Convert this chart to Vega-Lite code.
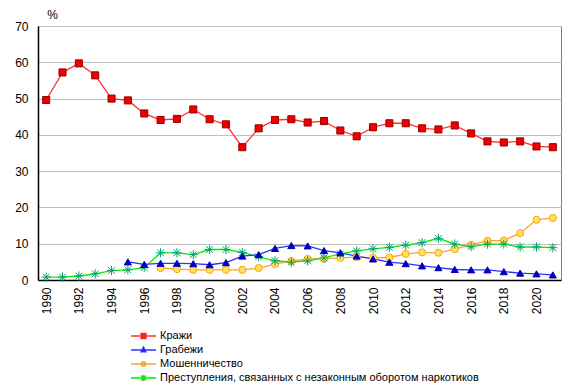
{
  "$schema": "https://vega.github.io/schema/vega-lite/v6.json",
  "autosize": {"type": "none"},
  "padding": {"left": 38, "top": 26, "right": 14, "bottom": 110},
  "width": 523,
  "height": 254,
  "background": "white",
  "config": {
    "font": "Liberation Sans",
    "view": {"stroke": "#808080", "strokeWidth": 1}
  },
  "data": {
    "values": [
      {"year": 1990, "series": "Кражи", "value": 49.6},
      {"year": 1991, "series": "Кражи", "value": 57.2},
      {"year": 1992, "series": "Кражи", "value": 59.7},
      {"year": 1993, "series": "Кражи", "value": 56.4},
      {"year": 1994, "series": "Кражи", "value": 50.0},
      {"year": 1995, "series": "Кражи", "value": 49.5},
      {"year": 1996, "series": "Кражи", "value": 45.9},
      {"year": 1997, "series": "Кражи", "value": 44.1},
      {"year": 1998, "series": "Кражи", "value": 44.4},
      {"year": 1999, "series": "Кражи", "value": 47.0},
      {"year": 2000, "series": "Кражи", "value": 44.3},
      {"year": 2001, "series": "Кражи", "value": 42.9},
      {"year": 2002, "series": "Кражи", "value": 36.6},
      {"year": 2003, "series": "Кражи", "value": 41.8},
      {"year": 2004, "series": "Кражи", "value": 44.1},
      {"year": 2005, "series": "Кражи", "value": 44.3},
      {"year": 2006, "series": "Кражи", "value": 43.4},
      {"year": 2007, "series": "Кражи", "value": 43.8},
      {"year": 2008, "series": "Кражи", "value": 41.2},
      {"year": 2009, "series": "Кражи", "value": 39.6},
      {"year": 2010, "series": "Кражи", "value": 42.1},
      {"year": 2011, "series": "Кражи", "value": 43.2},
      {"year": 2012, "series": "Кражи", "value": 43.2},
      {"year": 2013, "series": "Кражи", "value": 41.8},
      {"year": 2014, "series": "Кражи", "value": 41.5},
      {"year": 2015, "series": "Кражи", "value": 42.6},
      {"year": 2016, "series": "Кражи", "value": 40.4},
      {"year": 2017, "series": "Кражи", "value": 38.2},
      {"year": 2018, "series": "Кражи", "value": 37.9},
      {"year": 2019, "series": "Кражи", "value": 38.2},
      {"year": 2020, "series": "Кражи", "value": 36.8},
      {"year": 2021, "series": "Кражи", "value": 36.6},

      {"year": 1997, "series": "Мошенничество", "value": 3.3},
      {"year": 1998, "series": "Мошенничество", "value": 3.0},
      {"year": 1999, "series": "Мошенничество", "value": 2.8},
      {"year": 2000, "series": "Мошенничество", "value": 2.8},
      {"year": 2001, "series": "Мошенничество", "value": 2.8},
      {"year": 2002, "series": "Мошенничество", "value": 2.8},
      {"year": 2003, "series": "Мошенничество", "value": 3.3},
      {"year": 2004, "series": "Мошенничество", "value": 4.4},
      {"year": 2005, "series": "Мошенничество", "value": 5.2},
      {"year": 2006, "series": "Мошенничество", "value": 5.8},
      {"year": 2007, "series": "Мошенничество", "value": 5.8},
      {"year": 2008, "series": "Мошенничество", "value": 6.1},
      {"year": 2009, "series": "Мошенничество", "value": 6.3},
      {"year": 2010, "series": "Мошенничество", "value": 6.1},
      {"year": 2011, "series": "Мошенничество", "value": 6.2},
      {"year": 2012, "series": "Мошенничество", "value": 7.2},
      {"year": 2013, "series": "Мошенничество", "value": 7.6},
      {"year": 2014, "series": "Мошенничество", "value": 7.5},
      {"year": 2015, "series": "Мошенничество", "value": 8.5},
      {"year": 2016, "series": "Мошенничество", "value": 9.7},
      {"year": 2017, "series": "Мошенничество", "value": 10.8},
      {"year": 2018, "series": "Мошенничество", "value": 10.9},
      {"year": 2019, "series": "Мошенничество", "value": 12.9},
      {"year": 2020, "series": "Мошенничество", "value": 16.6},
      {"year": 2021, "series": "Мошенничество", "value": 17.1},

      {"year": 1990, "series": "Преступления, связанных с незаконным оборотом наркотиков", "value": 0.8},
      {"year": 1991, "series": "Преступления, связанных с незаконным оборотом наркотиков", "value": 0.8},
      {"year": 1992, "series": "Преступления, связанных с незаконным оборотом наркотиков", "value": 1.1},
      {"year": 1993, "series": "Преступления, связанных с незаконным оборотом наркотиков", "value": 1.7},
      {"year": 1994, "series": "Преступления, связанных с незаконным оборотом наркотиков", "value": 2.6},
      {"year": 1995, "series": "Преступления, связанных с незаконным оборотом наркотиков", "value": 2.8},
      {"year": 1996, "series": "Преступления, связанных с незаконным оборотом наркотиков", "value": 3.4},
      {"year": 1997, "series": "Преступления, связанных с незаконным оборотом наркотиков", "value": 7.5},
      {"year": 1998, "series": "Преступления, связанных с незаконным оборотом наркотиков", "value": 7.5},
      {"year": 1999, "series": "Преступления, связанных с незаконным оборотом наркотиков", "value": 7.0},
      {"year": 2000, "series": "Преступления, связанных с незаконным оборотом наркотиков", "value": 8.4},
      {"year": 2001, "series": "Преступления, связанных с незаконным оборотом наркотиков", "value": 8.4},
      {"year": 2002, "series": "Преступления, связанных с незаконным оборотом наркотиков", "value": 7.6},
      {"year": 2003, "series": "Преступления, связанных с незаконным оборотом наркотиков", "value": 6.4},
      {"year": 2004, "series": "Преступления, связанных с незаконным оборотом наркотиков", "value": 5.3},
      {"year": 2005, "series": "Преступления, связанных с незаконным оборотом наркотиков", "value": 4.9},
      {"year": 2006, "series": "Преступления, связанных с незаконным оборотом наркотиков", "value": 5.3},
      {"year": 2007, "series": "Преступления, связанных с незаконным оборотом наркотиков", "value": 6.1},
      {"year": 2008, "series": "Преступления, связанных с незаконным оборотом наркотиков", "value": 7.2},
      {"year": 2009, "series": "Преступления, связанных с незаконным оборотом наркотиков", "value": 8.0},
      {"year": 2010, "series": "Преступления, связанных с незаконным оборотом наркотиков", "value": 8.6},
      {"year": 2011, "series": "Преступления, связанных с незаконным оборотом наркотиков", "value": 9.0},
      {"year": 2012, "series": "Преступления, связанных с незаконным оборотом наркотиков", "value": 9.6},
      {"year": 2013, "series": "Преступления, связанных с незаконным оборотом наркотиков", "value": 10.3},
      {"year": 2014, "series": "Преступления, связанных с незаконным оборотом наркотиков", "value": 11.5},
      {"year": 2015, "series": "Преступления, связанных с незаконным оборотом наркотиков", "value": 9.9},
      {"year": 2016, "series": "Преступления, связанных с незаконным оборотом наркотиков", "value": 9.2},
      {"year": 2017, "series": "Преступления, связанных с незаконным оборотом наркотиков", "value": 9.9},
      {"year": 2018, "series": "Преступления, связанных с незаконным оборотом наркотиков", "value": 9.9},
      {"year": 2019, "series": "Преступления, связанных с незаконным оборотом наркотиков", "value": 9.1},
      {"year": 2020, "series": "Преступления, связанных с незаконным оборотом наркотиков", "value": 9.1},
      {"year": 2021, "series": "Преступления, связанных с незаконным оборотом наркотиков", "value": 8.9},

      {"year": 1995, "series": "Грабежи", "value": 5.0},
      {"year": 1996, "series": "Грабежи", "value": 4.3},
      {"year": 1997, "series": "Грабежи", "value": 4.6},
      {"year": 1998, "series": "Грабежи", "value": 4.6},
      {"year": 1999, "series": "Грабежи", "value": 4.5},
      {"year": 2000, "series": "Грабежи", "value": 4.2},
      {"year": 2001, "series": "Грабежи", "value": 4.8},
      {"year": 2002, "series": "Грабежи", "value": 6.6},
      {"year": 2003, "series": "Грабежи", "value": 7.0},
      {"year": 2004, "series": "Грабежи", "value": 8.7},
      {"year": 2005, "series": "Грабежи", "value": 9.5},
      {"year": 2006, "series": "Грабежи", "value": 9.4},
      {"year": 2007, "series": "Грабежи", "value": 8.1},
      {"year": 2008, "series": "Грабежи", "value": 7.5},
      {"year": 2009, "series": "Грабежи", "value": 6.6},
      {"year": 2010, "series": "Грабежи", "value": 5.8},
      {"year": 2011, "series": "Грабежи", "value": 4.9},
      {"year": 2012, "series": "Грабежи", "value": 4.5},
      {"year": 2013, "series": "Грабежи", "value": 3.9},
      {"year": 2014, "series": "Грабежи", "value": 3.4},
      {"year": 2015, "series": "Грабежи", "value": 2.9},
      {"year": 2016, "series": "Грабежи", "value": 2.8},
      {"year": 2017, "series": "Грабежи", "value": 2.8},
      {"year": 2018, "series": "Грабежи", "value": 2.3},
      {"year": 2019, "series": "Грабежи", "value": 1.9},
      {"year": 2020, "series": "Грабежи", "value": 1.7},
      {"year": 2021, "series": "Грабежи", "value": 1.4}
    ]
  },
  "encoding": {
    "x": {
      "field": "year", "type": "quantitative",
      "scale": {"domain": [1989.5, 2021.5], "nice": false, "zero": false},
      "axis": {
        "title": null,
        "values": [1990, 1992, 1994, 1996, 1998, 2000, 2002, 2004, 2006, 2008, 2010, 2012, 2014, 2016, 2018, 2020],
        "format": "d",
        "grid": false,
        "ticks": false,
        "domainColor": "#000000",
        "domainWidth": 1.5,
        "labelAngle": 270,
        "labelAlign": "right",
        "labelBaseline": "middle",
        "labelPadding": 7,
        "labelFontSize": 12,
        "labelColor": "#000000",
        "labelFlush": false,
        "labelOverlap": false
      }
    },
    "y": {
      "field": "value", "type": "quantitative",
      "scale": {"domain": [0, 70], "nice": false},
      "axis": {
        "title": "%",
        "titleAngle": 0,
        "titleX": 14,
        "titleY": -12,
        "titleAlign": "center",
        "titleBaseline": "middle",
        "titleFontSize": 12,
        "titleFontWeight": "normal",
        "titleColor": "#000000",
        "values": [0, 10, 20, 30, 40, 50, 60, 70],
        "grid": true,
        "gridColor": "#c0c0c0",
        "gridWidth": 1,
        "ticks": false,
        "domainColor": "#000000",
        "domainWidth": 1.5,
        "labelPadding": 10,
        "labelFontSize": 12,
        "labelColor": "#000000"
      }
    }
  },
  "layer": [
    {
      "mark": {"type": "line", "strokeWidth": 1.3},
      "encoding": {
        "color": {
          "field": "series", "type": "nominal",
          "scale": {
            "domain": ["Кражи", "Грабежи", "Мошенничество", "Преступления, связанных с незаконным оборотом наркотиков"],
            "range": ["#ff3030", "#3030ff", "#ffa030", "#00ee00"]
          },
          "legend": {
            "orient": "none",
            "legendX": 92,
            "legendY": 303,
            "title": null,
            "padding": 0,
            "rowPadding": 0,
            "clipHeight": 14,
            "symbolSize": 625,
            "symbolStrokeWidth": 1.3,
            "labelFontSize": 11,
            "labelColor": "#000000",
            "labelOffset": 3,
            "labelLimit": 500,
            "encode": {
              "symbols": {
                "update": {
                  "shape": {"signal": "datum.value === 'Кражи' ? 'M-1,0H1M-0.2,-0.2H0.2V0.2H-0.2Z' : datum.value === 'Грабежи' ? 'M-1,0H1M0,-0.24L0.2,0.14H-0.2Z' : datum.value === 'Мошенничество' ? 'M-1,0H1M-0.18,0A0.18,0.18,0,1,1,0.18,0A0.18,0.18,0,1,1,-0.18,0Z' : 'M-1,0H1M-0.2,-0.2L0.2,0.2M-0.2,0.2L0.2,-0.2M0,-0.26V0.26'"},
                  "fill": {"signal": "datum.value === 'Кражи' ? '#ee0000' : datum.value === 'Грабежи' ? '#0000cc' : datum.value === 'Мошенничество' ? '#ffe060' : 'transparent'"},
                  "stroke": {"signal": "datum.value === 'Кражи' ? '#ff3030' : datum.value === 'Грабежи' ? '#3030ff' : datum.value === 'Мошенничество' ? '#ffa030' : '#00ee00'"},
                  "opacity": {"value": 1}
                }
              }
            }
          }
        }
      }
    },
    {
      "mark": {"type": "point", "filled": true, "size": 50, "strokeWidth": 1, "opacity": 1},
      "encoding": {
        "shape": {
          "field": "series", "type": "nominal",
          "scale": {
            "domain": ["Кражи", "Грабежи", "Мошенничество", "Преступления, связанных с незаконным оборотом наркотиков"],
            "range": ["square", "triangle-up", "circle", "M0,-1.3V1.3M-1.3,0H1.3M-0.95,-0.95L0.95,0.95M-0.95,0.95L0.95,-0.95"]
          },
          "legend": null
        },
        "fill": {
          "field": "series", "type": "nominal",
          "scale": {
            "domain": ["Кражи", "Грабежи", "Мошенничество", "Преступления, связанных с незаконным оборотом наркотиков"],
            "range": ["#ee0000", "#0000cc", "#ffe060", "#00a060"]
          },
          "legend": null
        },
        "stroke": {
          "field": "series", "type": "nominal",
          "scale": {
            "domain": ["Кражи", "Грабежи", "Мошенничество", "Преступления, связанных с незаконным оборотом наркотиков"],
            "range": ["#990000", "#0000aa", "#ffa500", "#00a070"]
          },
          "legend": null
        }
      }
    }
  ],
  "resolve": {"scale": {"color": "independent", "fill": "independent", "stroke": "independent", "shape": "independent"}}
}
